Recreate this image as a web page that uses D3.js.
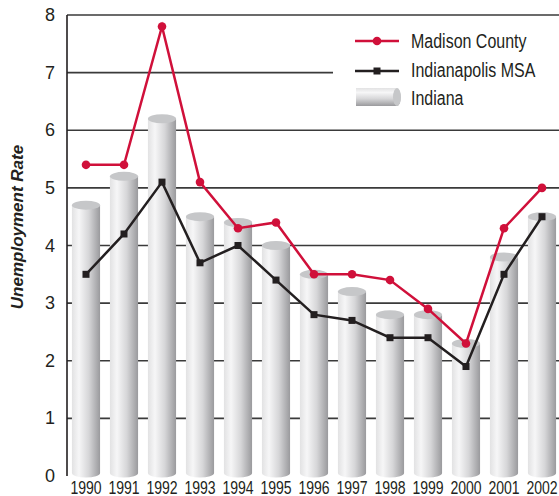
<!DOCTYPE html>
<html>
<head>
<meta charset="utf-8">
<script src="https://cdn.jsdelivr.net/npm/d3@7"></script>
<style>
  body { margin: 0; background: #fff; }
  text { font-family: "Liberation Sans", Arial, sans-serif; fill: #231f20; }
</style>
</head>
<body>
<div id="chart"></div>
<script>
// data
var years = ["1990","1991","1992","1993","1994","1995","1996","1997","1998","1999","2000","2001","2002"];
var madison = [5.4, 5.4, 7.8, 5.1, 4.3, 4.4, 3.5, 3.5, 3.4, 2.9, 2.3, 4.3, 5.0];
var msa = [3.5, 4.2, 5.1, 3.7, 4.0, 3.4, 2.8, 2.7, 2.4, 2.4, 1.9, 3.5, 4.5];
var indiana = [4.7, 5.2, 6.2, 4.5, 4.4, 4.0, 3.5, 3.2, 2.8, 2.8, 2.3, 3.8, 4.5];
var yTicks = [0, 1, 2, 3, 4, 5, 6, 7, 8];

var width = 559, height = 496;
var red = "#d0103a", dark = "#231f20";

var svg = d3.select("#chart")
  .append("svg")
    .attr("width", width)
    .attr("height", height);

var defs = svg.append("defs");

// cylinder shading
var grad = defs.append("linearGradient")
    .attr("id", "cyl")
    .attr("x1", "0%").attr("x2", "100%").attr("y1", "0%").attr("y2", "0%");
grad.append("stop").attr("offset", "0%").attr("stop-color", "#e2e2e3");
grad.append("stop").attr("offset", "25%").attr("stop-color", "#f6f6f7");
grad.append("stop").attr("offset", "60%").attr("stop-color", "#d6d6d8");
grad.append("stop").attr("offset", "100%").attr("stop-color", "#9a9a9d");

var gradH = defs.append("linearGradient")
    .attr("id", "cylH")
    .attr("x1", "0%").attr("x2", "0%").attr("y1", "0%").attr("y2", "100%");
gradH.append("stop").attr("offset", "0%").attr("stop-color", "#e2e2e3");
gradH.append("stop").attr("offset", "25%").attr("stop-color", "#f6f6f7");
gradH.append("stop").attr("offset", "60%").attr("stop-color", "#d6d6d8");
gradH.append("stop").attr("offset", "100%").attr("stop-color", "#9a9a9d");

var x = d3.scaleBand()
    .domain(years)
    .range([67, 561])
    .paddingInner(0.26)
    .paddingOuter(0.13);

var y = d3.scaleLinear()
    .domain([0, 8])
    .range([476, 15]);

var cx = function(d, i) { return x(years[i]) + x.bandwidth() / 2; };

// gridlines
svg.append("g")
  .selectAll("line")
  .data(yTicks.filter(function(d) { return d > 0; }))
  .enter()
  .append("line")
    .attr("x1", 67)
    .attr("x2", width)
    .attr("y1", function(d) { return y(d); })
    .attr("y2", function(d) { return y(d); })
    .style("stroke", "#3a3a3a")
    .style("stroke-width", 1.6);

// legend backdrop hides the grid under it
svg.append("rect")
    .attr("x", 333).attr("y", 27)
    .attr("width", width - 333).attr("height", 88)
    .style("fill", "#fff");

// y axis line + labels
svg.append("line")
    .attr("x1", 67).attr("x2", 67)
    .attr("y1", y(8)).attr("y2", y(0))
    .style("stroke", dark)
    .style("stroke-width", 1.6);

svg.append("g")
  .selectAll("text")
  .data(yTicks)
  .enter()
  .append("text")
    .attr("x", 55)
    .attr("y", function(d) { return y(d) + 6; })
    .attr("text-anchor", "end")
    .style("font-size", "18px")
    .text(function(d) { return d; });

svg.append("text")
    .attr("transform", "translate(23,227) rotate(-90)")
    .attr("text-anchor", "middle")
    .style("font-size", "17px")
    .style("font-weight", "bold")
    .style("font-style", "italic")
    .text("Unemployment Rate");

// Indiana cylinders
var ry = 4.5;
var bars = svg.append("g")
  .selectAll("g")
  .data(indiana)
  .enter()
  .append("g");

bars.append("path")
    .attr("d", function(d, i) {
      var x0 = x(years[i]), w = x.bandwidth();
      var top = y(d), bot = y(0) - 3;
      return "M" + x0 + "," + top + " L" + x0 + "," + bot +
        " A" + (w / 2) + "," + ry + " 0 0 0 " + (x0 + w) + "," + bot +
        " L" + (x0 + w) + "," + top + " Z";
    })
    .style("fill", "url(#cyl)");

bars.append("ellipse")
    .attr("cx", cx)
    .attr("cy", function(d) { return y(d); })
    .attr("rx", x.bandwidth() / 2)
    .attr("ry", ry)
    .style("fill", "#c6c7c9");

// year labels (narrow type)
svg.append("g")
  .selectAll("text")
  .data(years)
  .enter()
  .append("text")
    .attr("transform", function(d) {
      return "translate(" + (x(d) + x.bandwidth() / 2) + ",494) scale(0.78,1)";
    })
    .attr("text-anchor", "middle")
    .style("font-size", "18px")
    .text(function(d) { return d; });

// lines
var line = d3.line()
    .x(function(d, i) { return cx(d, i); })
    .y(function(d) { return y(d); });

svg.append("path")
    .datum(msa)
    .attr("d", line)
    .style("fill", "none")
    .style("stroke", dark)
    .style("stroke-width", 2.5);

svg.append("g")
  .selectAll("rect")
  .data(msa)
  .enter()
  .append("rect")
    .attr("x", function(d, i) { return cx(d, i) - 3.5; })
    .attr("y", function(d) { return y(d) - 3.5; })
    .attr("width", 7).attr("height", 7)
    .style("fill", dark);

svg.append("path")
    .datum(madison)
    .attr("d", line)
    .style("fill", "none")
    .style("stroke", red)
    .style("stroke-width", 2.5);

svg.append("g")
  .selectAll("circle")
  .data(madison)
  .enter()
  .append("circle")
    .attr("cx", cx)
    .attr("cy", function(d) { return y(d); })
    .attr("r", 4.3)
    .style("fill", red);

// legend
var legend = svg.append("g");

legend.append("line")
    .attr("x1", 355).attr("x2", 399).attr("y1", 41).attr("y2", 41)
    .style("stroke", red).style("stroke-width", 2.5);
legend.append("circle")
    .attr("cx", 377).attr("cy", 41).attr("r", 4.3)
    .style("fill", red);

legend.append("line")
    .attr("x1", 355).attr("x2", 399).attr("y1", 71).attr("y2", 71)
    .style("stroke", dark).style("stroke-width", 2.5);
legend.append("rect")
    .attr("x", 373.5).attr("y", 67.5).attr("width", 7).attr("height", 7)
    .style("fill", dark);

legend.append("path")
    .attr("d", "M356,88 L397,88 A4,9 0 0 1 397,106 L356,106 Z")
    .style("fill", "url(#cylH)");
legend.append("ellipse")
    .attr("cx", 397).attr("cy", 97).attr("rx", 4).attr("ry", 9)
    .style("fill", "#c6c7c9");

var labels = ["Madison County", "Indianapolis MSA", "Indiana"];
legend.selectAll("text")
  .data(labels)
  .enter()
  .append("text")
    .attr("transform", function(d, i) {
      return "translate(411," + (48 + i * 28.5) + ") scale(0.82,1)";
    })
    .style("font-size", "19.5px")
    .text(function(d) { return d; });
</script>
</body>
</html>
